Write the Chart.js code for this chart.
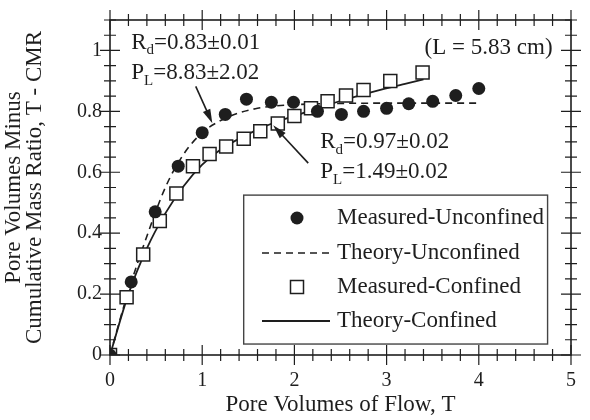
<!DOCTYPE html>
<html>
<head>
<meta charset="utf-8">
<script src="https://cdn.jsdelivr.net/npm/chart.js@4.4.0/dist/chart.umd.min.js"></script>
<style>
  html, body { margin: 0; padding: 0; background: #fff; }
  #wrap { width: 590px; height: 420px; }
</style>
</head>
<body>
<div id="wrap"><canvas id="chart" width="590" height="420"></canvas></div>
<script>
// values (T = pore volumes, y = T - CMR)
const measUncT = [0, 0.23, 0.49, 0.74, 1.0, 1.25, 1.48, 1.75, 1.99, 2.25, 2.51, 2.75, 3.0, 3.24, 3.5, 3.75, 4.0];
const measUncY = [0, 0.24, 0.47, 0.62, 0.73, 0.79, 0.84, 0.83, 0.83, 0.80, 0.79, 0.80, 0.81, 0.825, 0.833, 0.852, 0.875];

const measConT = [0, 0.18, 0.36, 0.54, 0.72, 0.90, 1.08, 1.26, 1.45, 1.63, 1.82, 2.0, 2.18, 2.36, 2.56, 2.75, 3.04, 3.39];
const measConY = [0, 0.19, 0.33, 0.44, 0.53, 0.62, 0.66, 0.685, 0.71, 0.735, 0.76, 0.785, 0.81, 0.833, 0.852, 0.87, 0.90, 0.928];

const theoUncT = [0, 0.2, 0.4, 0.6, 0.8, 1.0, 1.2, 1.4, 1.6, 1.8, 2.0, 2.5, 3.0, 3.5, 4.0];
const theoUncY = [0, 0.21, 0.39, 0.55, 0.66, 0.73, 0.77, 0.795, 0.81, 0.818, 0.822, 0.826, 0.827, 0.827, 0.827];

const theoConT = [0, 0.2, 0.4, 0.6, 0.8, 1.0, 1.2, 1.4, 1.6, 1.8, 2.0, 2.4, 2.8, 3.2, 3.4];
const theoConY = [0, 0.2, 0.35, 0.465, 0.555, 0.625, 0.675, 0.71, 0.74, 0.765, 0.785, 0.825, 0.86, 0.89, 0.905];

const seriesNames = ['Measured-Unconfined', 'Theory-Unconfined', 'Measured-Confined', 'Theory-Confined'];
const xTickLabels = ['0', '1', '2', '3', '4', '5'];
const yTickLabels = ['0', '0.2', '0.4', '0.6', '0.8', '1'];

const ink = '#1e1e1e';
const serif = "'Liberation Serif', 'Times New Roman', serif";

function pts(xs, ys) {
  return xs.map((v, i) => ({x: v, y: ys[i]}));
}

// frame with tick marks crossing all four sides
const frameTicks = {
  id: 'frameTicks',
  beforeDatasetsDraw(chart) {
    const {ctx, chartArea: a, scales: {x, y}} = chart;
    ctx.save();
    ctx.strokeStyle = ink;
    ctx.lineWidth = 1.6;
    ctx.strokeRect(a.left, a.top, a.right - a.left, a.bottom - a.top);
    ctx.lineWidth = 1.2;
    ctx.beginPath();
    for (let i = 0; i <= 25; i++) {
      const px = x.getPixelForValue(i * 0.2);
      const len = i % 5 === 0 ? 10 : 6;
      ctx.moveTo(px, a.bottom - len); ctx.lineTo(px, a.bottom + len);
      ctx.moveTo(px, a.top - len); ctx.lineTo(px, a.top + len);
    }
    for (let i = 0; i <= 22; i++) {
      const py = y.getPixelForValue(i * 0.05);
      const len = i % 4 === 0 ? 10 : 6;
      ctx.moveTo(a.left - len, py); ctx.lineTo(a.left + len, py);
      ctx.moveTo(a.right - len, py); ctx.lineTo(a.right + len, py);
    }
    ctx.stroke();
    ctx.restore();
  }
};

function subText(ctx, parts, x, y) {
  // parts: [text, isSub]
  let cx = x;
  parts.forEach(([t, sub]) => {
    ctx.font = (sub ? '15px ' : '23px ') + serif;
    ctx.fillText(t, cx, sub ? y + 8 : y);
    cx += ctx.measureText(t).width;
  });
}

function arrow(ctx, x1, y1, x2, y2) {
  const ang = Math.atan2(y2 - y1, x2 - x1);
  ctx.beginPath();
  ctx.moveTo(x1, y1);
  ctx.lineTo(x2 - 8 * Math.cos(ang), y2 - 8 * Math.sin(ang));
  ctx.stroke();
  ctx.beginPath();
  ctx.moveTo(x2, y2);
  ctx.lineTo(x2 - 14 * Math.cos(ang) + 4 * Math.sin(ang), y2 - 14 * Math.sin(ang) - 4 * Math.cos(ang));
  ctx.lineTo(x2 - 14 * Math.cos(ang) - 4 * Math.sin(ang), y2 - 14 * Math.sin(ang) + 4 * Math.cos(ang));
  ctx.closePath();
  ctx.fill();
}

const notes = {
  id: 'notes',
  afterDatasetsDraw(chart) {
    const {ctx, scales: {x, y}} = chart;
    const X = v => x.getPixelForValue(v);
    const Y = v => y.getPixelForValue(v);
    ctx.save();
    ctx.fillStyle = ink;
    ctx.strokeStyle = ink;
    ctx.lineWidth = 1.6;
    ctx.textBaseline = 'middle';
    ctx.textAlign = 'left';

    subText(ctx, [['R', false], ['d', true], ['=0.83\u00b10.01', false]], X(0.23), Y(1.026));
    subText(ctx, [['P', false], ['L', true], ['=8.83\u00b12.02', false]], X(0.23), Y(0.925));
    subText(ctx, [['R', false], ['d', true], ['=0.97\u00b10.02', false]], X(2.28), Y(0.70));
    subText(ctx, [['P', false], ['L', true], ['=1.49\u00b10.02', false]], X(2.28), Y(0.60));

    ctx.font = '23px ' + serif;
    ctx.textAlign = 'right';
    ctx.fillText('(L = 5.83 cm)', X(4.8), Y(1.007));

    arrow(ctx, X(0.93), Y(0.882), X(1.11), Y(0.761));
    arrow(ctx, X(2.15), Y(0.63), X(1.77), Y(0.754));

    // legend box
    const bx = X(1.45), by = Y(0.525), bw = X(4.746) - bx, bh = Y(0.036) - by;
    ctx.fillStyle = '#fff';
    ctx.fillRect(bx, by, bw, bh);
    ctx.lineWidth = 1.4;
    ctx.strokeStyle = '#444';
    ctx.strokeRect(bx, by, bw, bh);

    ctx.strokeStyle = ink;
    ctx.fillStyle = ink;
    ctx.textAlign = 'left';
    const rows = [218, 253, 287, 321];
    const sx = 297, lx1 = 262, lx2 = 330, tx = 337;
    // filled circle
    ctx.beginPath();
    ctx.arc(sx, rows[0], 6.5, 0, Math.PI * 2);
    ctx.fill();
    // dashed line
    ctx.lineWidth = 1.6;
    ctx.setLineDash([7, 5]);
    ctx.beginPath(); ctx.moveTo(lx1, rows[1]); ctx.lineTo(lx2, rows[1]); ctx.stroke();
    ctx.setLineDash([]);
    // open square
    ctx.lineWidth = 1.5;
    ctx.strokeRect(sx - 6.5, rows[2] - 6.5, 13, 13);
    // solid line
    ctx.lineWidth = 1.8;
    ctx.beginPath(); ctx.moveTo(lx1, rows[3]); ctx.lineTo(lx2, rows[3]); ctx.stroke();

    ctx.font = '23px ' + serif;
    seriesNames.forEach((n, i) => ctx.fillText(n, tx, rows[i]));
    ctx.restore();
  }
};

new Chart(document.getElementById('chart'), {
  type: 'scatter',
  data: {
    datasets: [
      {
        label: seriesNames[0],
        data: pts(measUncT, measUncY),
        pointStyle: 'circle',
        pointRadius: 6.5,
        backgroundColor: ink,
        borderColor: ink,
        borderWidth: 0,
        showLine: false,
        order: 1
      },
      {
        label: seriesNames[1],
        data: pts(theoUncT, theoUncY),
        showLine: true,
        pointRadius: 0,
        borderColor: ink,
        borderWidth: 1.6,
        borderDash: [7, 5],
        cubicInterpolationMode: 'monotone',
        order: 3
      },
      {
        label: seriesNames[2],
        data: pts(measConT, measConY),
        pointStyle: 'rect',
        pointRadius: 9.2,
        backgroundColor: '#fff',
        borderColor: ink,
        borderWidth: 1.5,
        showLine: false,
        order: 2
      },
      {
        label: seriesNames[3],
        data: pts(theoConT, theoConY),
        showLine: true,
        pointRadius: 0,
        borderColor: ink,
        borderWidth: 1.8,
        cubicInterpolationMode: 'monotone',
        order: 4
      }
    ]
  },
  options: {
    responsive: false,
    animation: false,
    devicePixelRatio: 1,
    layout: { padding: { top: 19, right: 8, left: 0, bottom: 0 } },
    plugins: {
      legend: { display: false },
      tooltip: { enabled: false }
    },
    scales: {
      x: {
        type: 'linear',
        min: 0,
        max: 5,
        grid: { display: false, drawTicks: false },
        border: { display: false },
        ticks: {
          stepSize: 1,
          autoSkip: false,
          padding: 14,
          color: ink,
          font: { family: serif, size: 20 },
          callback: v => xTickLabels[Math.round(v)] ?? ''
        },
        title: {
          display: true,
          text: 'Pore Volumes of Flow, T',
          color: ink,
          font: { family: serif, size: 23, lineHeight: 1.1 },
          padding: { top: 0, bottom: 2 }
        },
        afterFit(scale) { scale.height = 65; }
      },
      y: {
        type: 'linear',
        min: 0,
        max: 1.1,
        grid: { display: false, drawTicks: false },
        border: { display: false },
        ticks: {
          stepSize: 0.2,
          autoSkip: false,
          padding: 8,
          color: ink,
          font: { family: serif, size: 20 },
          callback: v => {
            const k = Math.round(v * 5);
            return Math.abs(v * 5 - k) < 1e-6 ? (yTickLabels[k] ?? '') : '';
          }
        },
        title: {
          display: true,
          text: ['Pore Volumes Minus', 'Cumulative Mass Ratio, T - CMR'],
          color: ink,
          font: { family: serif, size: 23, lineHeight: 0.9 },
          padding: { top: 4, bottom: 0 }
        },
        afterFit(scale) { scale.width = 110; }
      }
    }
  },
  plugins: [frameTicks, notes]
});
</script>
</body>
</html>
